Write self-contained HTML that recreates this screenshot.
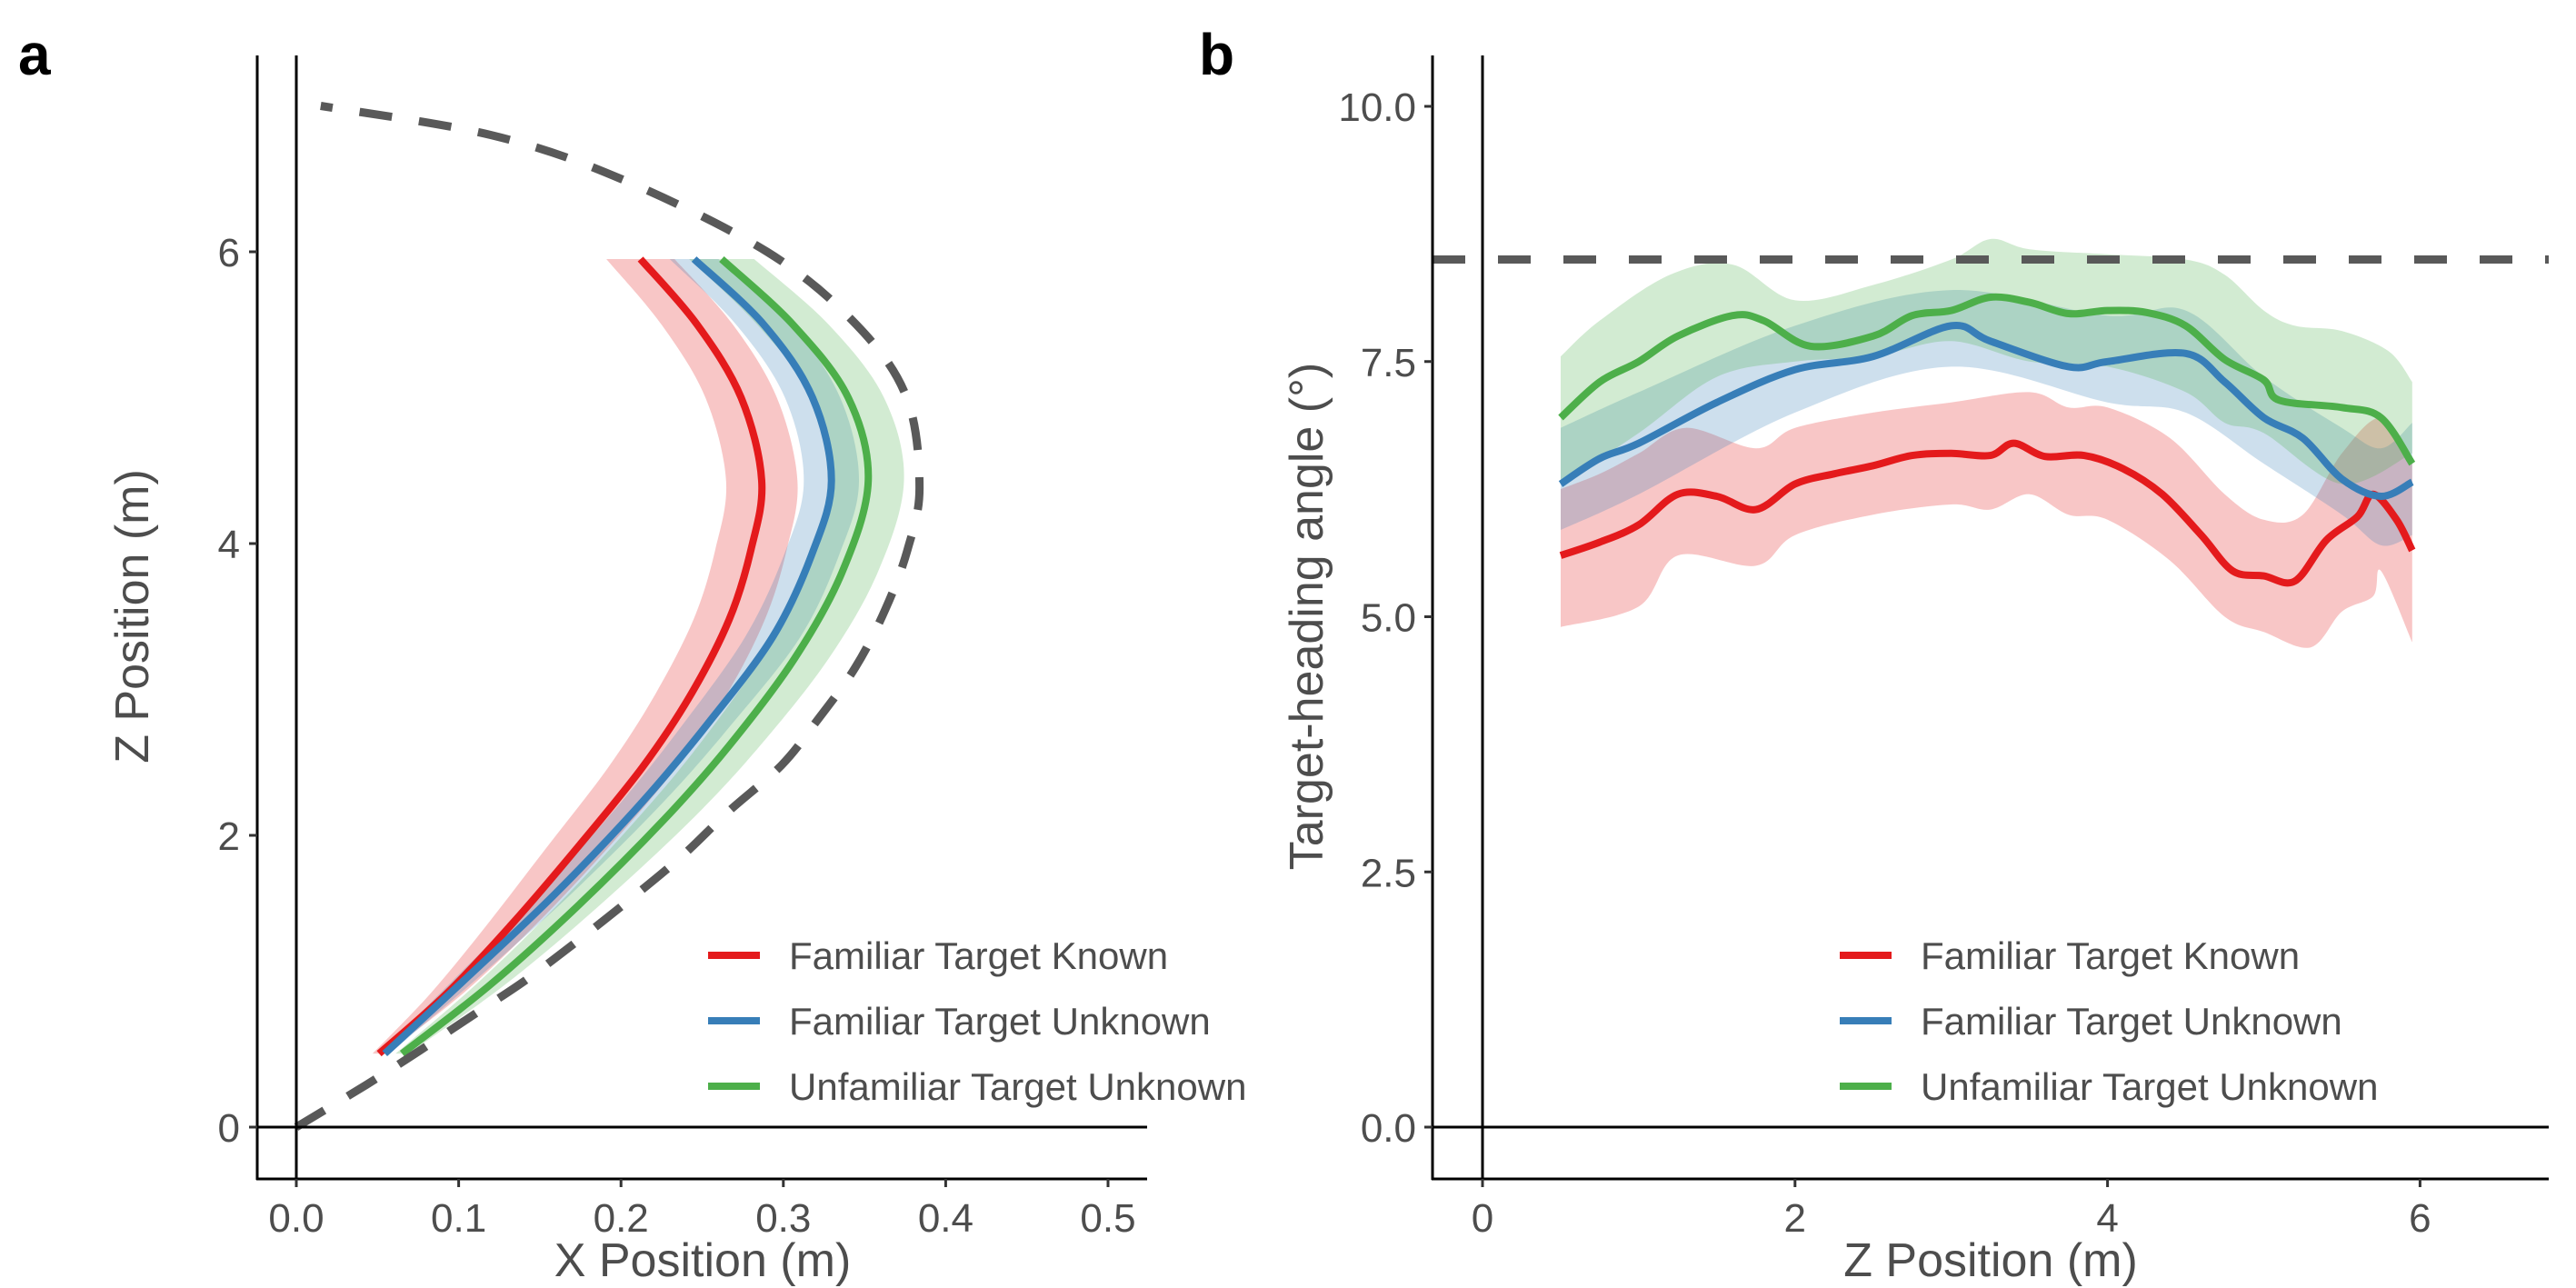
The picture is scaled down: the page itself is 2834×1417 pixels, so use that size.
<!DOCTYPE html>
<html><head><meta charset="utf-8"><style>
html,body{margin:0;padding:0;background:#fff;}
svg{display:block;font-family:"Liberation Sans",sans-serif;}
</style></head><body>
<svg id="fig" width="2834" height="1417" viewBox="0 0 2834 1417" xmlns="http://www.w3.org/2000/svg"></svg>
<script>
// ---------- Panel A data (z in m, x in m) ----------
const aRedZ   = [0.504,0.915,1.392,1.913,2.465,2.957,3.478,3.955,4.43,5,5.5,5.95];
const aRedX   = [0.051,0.0926,0.1328,0.1729,0.2131,0.2426,0.2666,0.28,0.2867,0.274,0.247,0.212];
const aRedW   = [0.004,0.01,0.015,0.019,0.021,0.022,0.022,0.022,0.022,0.022,0.022,0.021];
const aBlueZ  = [0.504,1.034,1.6,2.227,2.763,3.359,3.925,4.43,5,5.5,5.95];
const aBlueX  = [0.0545,0.106,0.1595,0.213,0.2533,0.2934,0.3175,0.3296,0.318,0.288,0.245];
const aBlueW  = [0.003,0.007,0.01,0.013,0.015,0.017,0.017,0.017,0.017,0.017,0.015];
const aGreenZ = [0.504,0.975,1.511,2.107,2.614,3.21,3.806,4.43,5,5.5,5.95];
const aGreenX = [0.0652,0.1194,0.1729,0.2265,0.2666,0.3068,0.3363,0.3523,0.34,0.306,0.262];
const aGreenW = [0.004,0.009,0.013,0.017,0.019,0.021,0.022,0.022,0.022,0.022,0.02];
const aDashZ  = [0,0.289,0.528,0.766,1.004,1.273,1.556,1.854,2.167,2.48,2.778,3.15,3.553,3.955,4.387,5,5.5,6,6.5,6.8,7];
const aDashX  = [0,0.043,0.0765,0.1086,0.1408,0.1729,0.205,0.2372,0.2666,0.2988,0.3202,0.3443,0.363,0.3764,0.3839,0.376,0.345,0.29,0.2,0.12,0.015];
const aXTicks = [0,0.1,0.2,0.3,0.4,0.5];
const aXTickLabels = ["0.0","0.1","0.2","0.3","0.4","0.5"];
const aYTicks = [0,2,4,6];
const aYTickLabels = ["0","2","4","6"];

// ---------- Panel B data ----------
const bRedZ = [0.5,0.75,1,1.25,1.5,1.75,2,2.25,2.5,2.75,3,3.25,3.4,3.6,3.85,4.1,4.35,4.6,4.8,5,5.2,5.4,5.6,5.7,5.85,5.95];
const bRedY = [5.6,5.73,5.9,6.2,6.18,6.05,6.3,6.4,6.48,6.58,6.6,6.58,6.7,6.57,6.58,6.45,6.2,5.8,5.45,5.4,5.35,5.75,5.98,6.2,5.95,5.65];
const bRedLoZ = [0.5,1,1.25,1.75,2,2.5,3,3.25,3.5,3.75,4,4.4,4.75,5,5.3,5.5,5.7,5.75,5.95];
const bRedLo  = [4.9,5.1,5.6,5.5,5.8,6.0,6.1,6.05,6.2,6.0,5.95,5.55,5.0,4.85,4.7,5.05,5.2,5.45,4.75];
const bRedHiZ = [0.5,0.75,1,1.3,1.75,2,2.5,3,3.5,3.75,4,4.4,4.75,5,5.25,5.5,5.75,5.95];
const bRedHi  = [6.25,6.4,6.6,6.85,6.65,6.85,7.0,7.1,7.2,7.05,7.05,6.75,6.2,5.95,6.0,6.6,6.95,6.55];
const bBlueZ = [0.5,0.75,1,1.5,2,2.5,3,3.25,3.75,4,4.5,4.75,5,5.25,5.5,5.75,5.95];
const bBlueY = [6.3,6.55,6.7,7.1,7.42,7.55,7.85,7.7,7.45,7.5,7.58,7.3,6.95,6.75,6.35,6.18,6.32];
const bBlueLoZ = [0.5,1,2,3,4,4.5,5,5.5,5.75,5.95];
const bBlueLo  = [5.85,6.2,7.0,7.45,7.1,7.0,6.5,6.0,5.7,5.8];
const bBlueHiZ = [0.5,1,2,3,4,4.5,5,5.5,5.75,5.95];
const bBlueHi  = [6.85,7.2,7.85,8.2,7.95,8.0,7.35,6.85,6.65,6.9];
const bGreenZ = [0.5,0.75,1,1.25,1.6,1.8,2.1,2.5,2.75,3,3.25,3.5,3.75,4,4.25,4.5,4.75,5,5.1,5.5,5.75,5.95];
const bGreenY = [6.95,7.3,7.5,7.75,7.95,7.9,7.65,7.75,7.95,8.0,8.13,8.08,7.97,8.0,7.98,7.85,7.52,7.32,7.12,7.05,6.95,6.5];
const bGreenLoZ = [0.5,1,1.5,2,2.5,3,3.5,4,4.5,4.75,5,5.5,5.95];
const bGreenLo  = [6.3,6.8,7.35,7.5,7.55,7.7,7.5,7.45,7.2,6.9,6.8,6.3,6.6];
const bGreenHiZ = [0.5,0.75,1.2,1.6,2,2.5,3,3.25,3.5,4,4.5,4.75,5,5.2,5.5,5.8,5.95];
const bGreenHi  = [7.55,7.9,8.35,8.45,8.1,8.25,8.5,8.7,8.6,8.55,8.5,8.35,8.0,7.85,7.8,7.6,7.3];
const bRefAngle = [8.5];
const bXTicks = [0,2,4,6];
const bXTickLabels = ["0","2","4","6"];
const bYTicks = [0,2.5,5,7.5,10];
const bYTickLabels = ["0.0","2.5","5.0","7.5","10.0"];

const legendLabels = ["Familiar Target Known","Familiar Target Unknown","Unfamiliar Target Unknown"];
const RED="#E41A1C", BLUE="#377EB8", GREEN="#4DAF4A";
const colors=[RED,BLUE,GREEN];
const TICK_FS=44, TITLE_FS=52, LEG_FS=42;

const ax = v => 326 + v*1786;
const ay = v => 1240 - v*160.5;
const bx = v => 1631 + v*171.9;
const by = v => 1240 - v*112.3;

const svg=document.getElementById('fig');
const NS="http://www.w3.org/2000/svg";
function mk(tag,attrs,parent){const e=document.createElementNS(NS,tag);for(const k in attrs)e.setAttribute(k,attrs[k]);(parent||svg).appendChild(e);return e;}
function cr(pts){
  let d="M"+pts[0][0].toFixed(1)+","+pts[0][1].toFixed(1);
  for(let i=0;i<pts.length-1;i++){const p0=pts[i-1]||pts[i],p1=pts[i],p2=pts[i+1],p3=pts[i+2]||p2;
    d+=" C"+(p1[0]+(p2[0]-p0[0])/6).toFixed(1)+","+(p1[1]+(p2[1]-p0[1])/6).toFixed(1)+" "+(p2[0]-(p3[0]-p1[0])/6).toFixed(1)+","+(p2[1]-(p3[1]-p1[1])/6).toFixed(1)+" "+p2[0].toFixed(1)+","+p2[1].toFixed(1);}
  return d;}

// ---------- Panel A ----------
const gA=mk('g',{});


const aSeries=[[aRedZ,aRedX,aRedW],[aBlueZ,aBlueX,aBlueW],[aGreenZ,aGreenX,aGreenW]];
const aNames=['familiar-known','familiar-unknown','unfamiliar-unknown'];
aSeries.forEach((s,i)=>{
  const up=s[0].map((z,j)=>[ax(s[1][j]+s[2][j]),ay(z)]);
  const lo=s[0].map((z,j)=>[ax(s[1][j]-s[2][j]),ay(z)]).reverse();
  const p=mk('path',{d:cr(up)+" L"+cr(lo).slice(1)+" Z",fill:colors[i],'fill-opacity':0.25,stroke:'none'},gA);
  
  
});
aSeries.forEach((s,i)=>{
  const p=mk('path',{d:cr(s[0].map((z,j)=>[ax(s[1][j]),ay(z)])),fill:'none',stroke:colors[i],'stroke-width':8},gA);
  
  
});
const dA=mk('path',{d:cr(aDashZ.map((z,j)=>[ax(aDashX[j]),ay(z)])),fill:'none',stroke:'#595959','stroke-width':9,'stroke-dasharray':'36 30'},gA);


let e=mk('line',{x1:ax(0),x2:ax(0),y1:61,y2:1297,stroke:'#000','stroke-width':3},gA);

e=mk('line',{x1:283,x2:1262,y1:ay(0),y2:ay(0),stroke:'#000','stroke-width':3},gA);

e=mk('line',{x1:283,x2:283,y1:61,y2:1298,stroke:'#000','stroke-width':3},gA);

e=mk('line',{x1:282,x2:1262,y1:1297,y2:1297,stroke:'#000','stroke-width':3},gA);

aXTicks.forEach((v,i)=>{
  mk('line',{x1:ax(v),x2:ax(v),y1:1297,y2:1306,stroke:'#333','stroke-width':3},gA);
  const t=mk('text',{x:ax(v),y:1355,'text-anchor':'middle','font-size':TICK_FS,fill:'#4d4d4d'},gA);t.textContent=aXTickLabels[i];
  
});
aYTicks.forEach((v,i)=>{
  mk('line',{x1:274,x2:283,y1:ay(v),y2:ay(v),stroke:'#333','stroke-width':3},gA);
  const t=mk('text',{x:264,y:ay(v)+16,'text-anchor':'end','font-size':TICK_FS,fill:'#4d4d4d'},gA);t.textContent=aYTickLabels[i];
  
});
e=mk('text',{x:773,y:1404,'text-anchor':'middle','font-size':TITLE_FS,fill:'#4d4d4d'},gA);e.textContent='X Position (m)';

e=mk('text',{x:0,y:0,transform:'translate(163,678) rotate(-90)','text-anchor':'middle','font-size':TITLE_FS,fill:'#4d4d4d'},gA);e.textContent='Z Position (m)';

e=mk('text',{x:20,y:82,'font-size':64,'font-weight':'bold',fill:'#000'},gA);e.textContent='a';

legendLabels.forEach((l,i)=>{
  const y=1051+i*72;
  const ln=mk('line',{x1:779,x2:836,y1:y,y2:y,stroke:colors[i],'stroke-width':8},gA);
  
  const t=mk('text',{x:868,y:y+15,'font-size':LEG_FS,fill:'#4d4d4d'},gA);t.textContent=l;
  
});

// ---------- Panel B ----------
const gB=mk('g',{});


const bBands=[[bRedLoZ,bRedLo,bRedHiZ,bRedHi],[bBlueLoZ,bBlueLo,bBlueHiZ,bBlueHi],[bGreenLoZ,bGreenLo,bGreenHiZ,bGreenHi]];
bBands.forEach((b,i)=>{
  const up=b[2].map((z,j)=>[bx(z),by(b[3][j])]);
  const lo=b[0].map((z,j)=>[bx(z),by(b[1][j])]).reverse();
  const p=mk('path',{d:cr(up)+" L"+cr(lo).slice(1)+" Z",fill:colors[i],'fill-opacity':0.25},gB);
  
  
});
const dB=mk('line',{x1:1576,x2:2804,y1:by(bRefAngle[0]),y2:by(bRefAngle[0]),stroke:'#595959','stroke-width':9,'stroke-dasharray':'36 36'},gB);


[[bRedZ,bRedY],[bBlueZ,bBlueY],[bGreenZ,bGreenY]].forEach((s,i)=>{
  const p=mk('path',{d:cr(s[0].map((z,j)=>[bx(z),by(s[1][j])])),fill:'none',stroke:colors[i],'stroke-width':8},gB);
  
  
});
e=mk('line',{x1:bx(0),x2:bx(0),y1:61,y2:1297,stroke:'#000','stroke-width':3},gB);

e=mk('line',{x1:1576,x2:2804,y1:by(0),y2:by(0),stroke:'#000','stroke-width':3},gB);

e=mk('line',{x1:1576,x2:1576,y1:61,y2:1298,stroke:'#000','stroke-width':3},gB);

e=mk('line',{x1:1575,x2:2804,y1:1297,y2:1297,stroke:'#000','stroke-width':3},gB);

bXTicks.forEach((v,i)=>{
  mk('line',{x1:bx(v),x2:bx(v),y1:1297,y2:1306,stroke:'#333','stroke-width':3},gB);
  const t=mk('text',{x:bx(v),y:1355,'text-anchor':'middle','font-size':TICK_FS,fill:'#4d4d4d'},gB);t.textContent=bXTickLabels[i];
  
});
bYTicks.forEach((v,i)=>{
  mk('line',{x1:1567,x2:1576,y1:by(v),y2:by(v),stroke:'#333','stroke-width':3},gB);
  const t=mk('text',{x:1558,y:by(v)+16,'text-anchor':'end','font-size':TICK_FS,fill:'#4d4d4d'},gB);t.textContent=bYTickLabels[i];
  
});
e=mk('text',{x:2190,y:1404,'text-anchor':'middle','font-size':TITLE_FS,fill:'#4d4d4d'},gB);e.textContent='Z Position (m)';

e=mk('text',{x:0,y:0,transform:'translate(1455,678) rotate(-90)','text-anchor':'middle','font-size':TITLE_FS,fill:'#4d4d4d'},gB);e.textContent='Target-heading angle (°)';

e=mk('text',{x:1319,y:82,'font-size':64,'font-weight':'bold',fill:'#000'},gB);e.textContent='b';

legendLabels.forEach((l,i)=>{
  const y=1051+i*72;
  const ln=mk('line',{x1:2024,x2:2081,y1:y,y2:y,stroke:colors[i],'stroke-width':8},gB);
  
  const t=mk('text',{x:2113,y:y+15,'font-size':LEG_FS,fill:'#4d4d4d'},gB);t.textContent=l;
  
});
</script>
</body></html>
